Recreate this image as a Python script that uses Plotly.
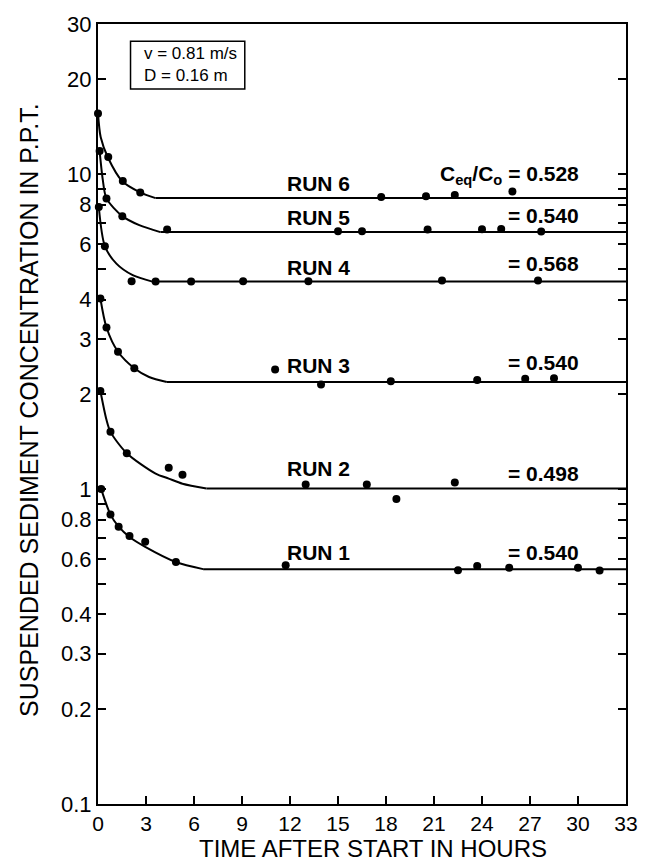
import numpy as np
import plotly.graph_objects as go

# ---------------- data ----------------
run_names = ["RUN 1", "RUN 2", "RUN 3", "RUN 4", "RUN 5", "RUN 6"]
ratios = ["0.540", "0.498", "0.540", "0.568", "0.540", "0.528"]

run1_t = [0.2, 0.78, 1.29, 1.97, 2.95, 4.87, 11.73, 22.5, 23.7, 25.7, 30.0, 31.35]
run1_c = [1.0, 0.83, 0.76, 0.71, 0.68, 0.587, 0.573, 0.553, 0.570, 0.563, 0.563, 0.552]
run2_t = [0.15, 0.78, 1.8, 4.42, 5.28, 12.98, 16.8, 18.65, 22.3]
run2_c = [2.05, 1.52, 1.30, 1.17, 1.11, 1.035, 1.035, 0.93, 1.05]
run3_t = [0.15, 0.53, 1.25, 2.27, 11.07, 13.94, 18.3, 23.7, 26.7, 28.5]
run3_c = [4.03, 3.26, 2.73, 2.42, 2.40, 2.15, 2.20, 2.22, 2.24, 2.25]
run4_t = [0.05, 0.43, 2.1, 3.6, 5.82, 9.07, 13.15, 21.5, 27.5]
run4_c = [7.87, 5.91, 4.57, 4.56, 4.56, 4.57, 4.57, 4.60, 4.60]
run5_t = [0.1, 0.53, 1.52, 4.32, 15.0, 16.5, 20.6, 24.0, 25.2, 27.7]
run5_c = [11.86, 8.38, 7.36, 6.67, 6.59, 6.59, 6.67, 6.69, 6.70, 6.58]
run6_t = [0.0, 0.64, 1.55, 2.64, 17.7, 20.5, 22.3, 25.9]
run6_c = [15.6, 11.35, 9.51, 8.75, 8.47, 8.51, 8.59, 8.81]

# fitted decay curves (up to where they level off)
fit1_t = [0.2, 0.78, 1.29, 1.97, 2.95, 4.87, 6.57]
fit1_c = [1.0, 0.83, 0.76, 0.705, 0.656, 0.587, 0.557]
fit2_t = [0.15, 0.53, 0.78, 1.8, 3.6, 4.42, 5.28, 6.78]
fit2_c = [2.05, 1.66, 1.52, 1.30, 1.12, 1.08, 1.04, 1.005]
fit3_t = [0.15, 0.53, 1.25, 2.27, 3.19, 4.3]
fit3_c = [4.03, 3.26, 2.73, 2.42, 2.27, 2.19]
fit4_t = [0.05, 0.43, 1.15, 2.17, 3.4]
fit4_c = [7.87, 5.91, 5.2, 4.78, 4.56]
fit5_t = [0.1, 0.3, 0.53, 1.52, 2.58, 3.9]
fit5_c = [11.86, 9.6, 8.38, 7.36, 6.89, 6.55]
fit6_t = [0.0, 0.17, 0.62, 1.52, 2.63, 3.6]
fit6_c = [15.6, 13.1, 11.3, 9.5, 8.76, 8.4]

# equilibrium levels (flat lines to the end of the axis)
eq_levels = [0.557, 1.005, 2.19, 4.56, 6.55, 8.4]
t_end = 33.0

x_ticks = [0, 3, 6, 9, 12, 15, 18, 21, 24, 27, 30, 33]
y_ticks = [0.1, 0.2, 0.3, 0.4, 0.6, 0.8, 1, 2, 3, 4, 6, 8, 10, 20, 30]
y_ticktext = ["0.1", "0.2", "0.3", "0.4", "0.6", "0.8", "1", "2", "3", "4", "6", "8", "10", "20", "30"]
y_minor = [0.5, 0.7, 0.9, 5, 7, 9]

points = [(run1_t, run1_c), (run2_t, run2_c), (run3_t, run3_c),
          (run4_t, run4_c), (run5_t, run5_c), (run6_t, run6_c)]
fits = [(fit1_t, fit1_c), (fit2_t, fit2_c), (fit3_t, fit3_c),
        (fit4_t, fit4_c), (fit5_t, fit5_c), (fit6_t, fit6_c)]

FONT = "Liberation Sans, Arial, Helvetica, sans-serif"

fig = go.Figure()
for (ft, fc), eq in zip(fits, eq_levels):
    fig.add_trace(go.Scatter(x=ft, y=fc, mode="lines",
                             line=dict(color="black", width=2, shape="spline", smoothing=0.8),
                             showlegend=False, hoverinfo="skip", cliponaxis=False))
    fig.add_trace(go.Scatter(x=[ft[-1], t_end], y=[eq, eq], mode="lines",
                             line=dict(color="black", width=2),
                             showlegend=False, hoverinfo="skip"))
for (pt, pc) in points:
    fig.add_trace(go.Scatter(x=pt, y=pc, mode="markers",
                             marker=dict(color="black", size=8),
                             showlegend=False, cliponaxis=False))

# label positions (log10 of y for log axis)
run_label_y = [-0.2, 0.067, 0.394, 0.705, 0.863, 0.971]
ratio_label_y = [-0.2, 0.051, 0.403, 0.717, 0.870, 0.997]
annotations = []
for name, ry in zip(run_names, run_label_y):
    annotations.append(dict(x=13.8, y=ry, xref="x", yref="y", text="<b>%s</b>" % name,
                            showarrow=False, xanchor="center", yanchor="middle",
                            font=dict(family=FONT, size=21, color="black")))
for i, (r, ry) in enumerate(zip(ratios, ratio_label_y)):
    txt = "<b>= %s</b>" % r
    if i == 5:
        txt = "<b>C<sub>eq</sub>/C<sub>o</sub> = %s</b>" % r
    annotations.append(dict(x=30.2, y=ry, xref="x", yref="y", text=txt,
                            showarrow=False, xanchor="right", yanchor="middle",
                            font=dict(family=FONT, size=21, color="black")))

# info box text
annotations.append(dict(x=0.083, y=0.9475, xref="paper", yref="paper",
                        text="v = 0.81 m/s<br>D = 0.16 m", align="left",
                        showarrow=False, xanchor="left", yanchor="middle",
                        font=dict(family=FONT, size=17, color="black")))
# axis titles
annotations.append(dict(x=-0.131, y=0.505, xref="paper", yref="paper",
                        text="SUSPENDED SEDIMENT CONCENTRATION IN P.P.T.",
                        textangle=-90, showarrow=False, xanchor="center", yanchor="middle",
                        font=dict(family=FONT, size=25, color="black")))
annotations.append(dict(x=0.5215, y=-0.0565, xref="paper", yref="paper",
                        text="TIME AFTER START IN HOURS",
                        showarrow=False, xanchor="center", yanchor="middle",
                        font=dict(family=FONT, size=24, color="black")))

fig.update_layout(
    width=650, height=863,
    margin=dict(l=98, r=16, t=24, b=59),
    paper_bgcolor="white", plot_bgcolor="white",
    showlegend=False,
    annotations=annotations,
    shapes=[dict(type="rect", xref="paper", yref="paper",
                 x0=0.0616, x1=0.278, y0=0.9167, y1=0.978,
                 line=dict(color="black", width=1.5))],
    font=dict(family=FONT, color="black"),
)
fig.update_xaxes(range=[0, 33], tickvals=x_ticks, ticktext=[str(v) for v in x_ticks],
                 ticks="inside", ticklen=8, tickwidth=1.5, tickcolor="black",
                 showline=True, linewidth=2, linecolor="black", mirror=True,
                 showgrid=False, zeroline=False, ticklabelstandoff=0,
                 tickfont=dict(family=FONT, size=21, color="black"))
fig.update_yaxes(type="log", range=[-1, np.log10(30)],
                 tickvals=y_ticks, ticktext=y_ticktext,
                 ticks="inside", ticklen=8, tickwidth=1.5, tickcolor="black",
                 showline=True, linewidth=2, linecolor="black", mirror="ticks",
                 showgrid=False, zeroline=False,
                 minor=dict(tickvals=y_minor, ticks="inside", ticklen=8, tickwidth=1.5,
                            tickcolor="black", showgrid=False),
                 tickfont=dict(family=FONT, size=22, color="black"))

fig.write_html("out.html")
